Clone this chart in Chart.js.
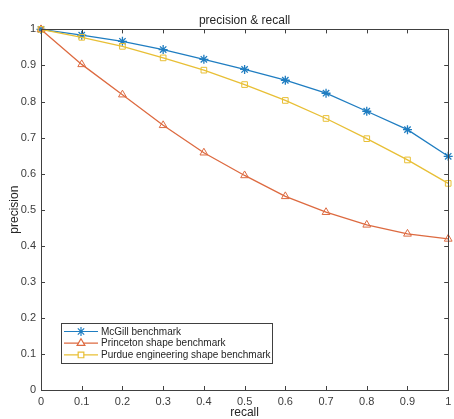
<!DOCTYPE html>
<html lang="en">
<head>
    <meta charset="UTF-8">
    <title>precision & recall</title>
    <script src="https://cdn.jsdelivr.net/npm/chart.js"></script>
    <style>
        body {
            margin: 0;
            padding: 0;
            background-color: #ffffff;
        }

        #wrap {
            width: 454px;
            height: 419px;
        }
    </style>
</head>
<body>
    <div id="wrap"><canvas id="prChart"></canvas></div>

    <script>
        // recall values on the x axis
        const recall = [0, 0.1, 0.2, 0.3, 0.4, 0.5, 0.6, 0.7, 0.8, 0.9, 1];

        // precision for each benchmark
        const mcgill = [1, 0.984, 0.967, 0.944, 0.917, 0.889, 0.859, 0.823, 0.773, 0.722, 0.648];
        const princeton = [1, 0.903, 0.819, 0.734, 0.658, 0.595, 0.537, 0.493, 0.458, 0.433, 0.419];
        const purdue = [1, 0.978, 0.953, 0.921, 0.887, 0.847, 0.803, 0.753, 0.697, 0.638, 0.573];

        const seriesNames = ['McGill benchmark', 'Princeton shape benchmark', 'Purdue engineering shape benchmark'];

        const axisColor = '#404040';
        const fontFamily = "'Liberation Sans', Arial, sans-serif";

        function toPoints(values) {
            return values.map((v, i) => ({ x: recall[i], y: v }));
        }

        // MATLAB-like box with inward ticks on all four sides
        const boxAxes = {
            id: 'boxAxes',
            afterDraw(chart) {
                const { ctx, chartArea: a, scales } = chart;
                const len = 4;
                ctx.save();
                ctx.strokeStyle = axisColor;
                ctx.lineWidth = 1;
                ctx.beginPath();
                scales.x.ticks.forEach(t => {
                    const px = Math.round(scales.x.getPixelForValue(t.value)) + 0.5;
                    ctx.moveTo(px, a.bottom);
                    ctx.lineTo(px, a.bottom - len);
                    ctx.moveTo(px, a.top);
                    ctx.lineTo(px, a.top + len);
                });
                scales.y.ticks.forEach(t => {
                    const py = Math.round(scales.y.getPixelForValue(t.value)) + 0.5;
                    ctx.moveTo(a.left, py);
                    ctx.lineTo(a.left + len, py);
                    ctx.moveTo(a.right, py);
                    ctx.lineTo(a.right - len, py);
                });
                ctx.stroke();
                ctx.strokeRect(Math.round(a.left) + 0.5, Math.round(a.top) + 0.5,
                    Math.round(a.right - a.left), Math.round(a.bottom - a.top));
                ctx.restore();
            }
        };

        // legend box inside the lower left of the plot
        const insideLegend = {
            id: 'insideLegend',
            afterDraw(chart) {
                const { ctx, chartArea: a } = chart;
                const x0 = a.left + 20, y0 = a.bottom - 67;
                const w = 211, h = 40, rowH = 11.7;
                ctx.save();
                ctx.fillStyle = '#ffffff';
                ctx.fillRect(x0, y0, w, h);
                ctx.strokeStyle = axisColor;
                ctx.lineWidth = 1;
                ctx.strokeRect(Math.round(x0) + 0.5, Math.round(y0) + 0.5, w, h);
                ctx.font = '10px ' + fontFamily;
                ctx.textBaseline = 'middle';
                chart.data.datasets.forEach((ds, i) => {
                    const y = y0 + 8.5 + i * rowH;
                    ctx.strokeStyle = ds.borderColor;
                    ctx.lineWidth = 1.2;
                    ctx.beginPath();
                    ctx.moveTo(x0 + 3, y);
                    ctx.lineTo(x0 + 37, y);
                    ctx.stroke();
                    ctx.fillStyle = '#ffffff';
                    Chart.helpers.drawPoint(ctx, {
                        pointStyle: ds.pointStyle,
                        radius: ds.pointRadius,
                        borderWidth: ds.pointBorderWidth,
                        rotation: 0
                    }, x0 + 20, y);
                    ctx.fillStyle = '#262626';
                    ctx.fillText(ds.label, x0 + 40, y + 0.5);
                });
                ctx.restore();
            }
        };

        const ctx = document.getElementById('prChart').getContext('2d');

        const prChart = new Chart(ctx, {
            type: 'line',
            data: {
                datasets: [{
                    label: seriesNames[0],
                    data: toPoints(mcgill),
                    borderColor: '#1f7dc1',
                    backgroundColor: 'rgba(0,0,0,0)',
                    pointStyle: 'star',
                    pointRadius: 4.5,
                    pointBorderWidth: 1.3,
                    borderWidth: 1.3,
                    order: 2
                }, {
                    label: seriesNames[1],
                    data: toPoints(princeton),
                    borderColor: '#dd6a40',
                    backgroundColor: 'rgba(0,0,0,0)',
                    pointStyle: 'triangle',
                    pointRadius: 4.5,
                    pointBorderWidth: 1,
                    borderWidth: 1.3,
                    order: 1
                }, {
                    label: seriesNames[2],
                    data: toPoints(purdue),
                    borderColor: '#e8bf35',
                    backgroundColor: 'rgba(0,0,0,0)',
                    pointStyle: 'rect',
                    pointRadius: 4,
                    pointBorderWidth: 1,
                    borderWidth: 1.3,
                    order: 0
                }]
            },
            options: {
                responsive: true,
                maintainAspectRatio: false,
                animation: false,
                clip: false,
                layout: { padding: { left: 0, right: 2, top: 0, bottom: 0 } },
                plugins: {
                    legend: { display: false },
                    tooltip: { enabled: false },
                    title: {
                        display: true,
                        text: 'precision & recall',
                        fullSize: false,
                        color: '#262626',
                        font: { family: fontFamily, size: 12, weight: 'normal' },
                        padding: { top: 13, bottom: 2 }
                    }
                },
                scales: {
                    x: {
                        type: 'linear',
                        min: 0,
                        max: 1,
                        grid: { display: false, drawTicks: false },
                        border: { display: false },
                        ticks: {
                            stepSize: 0.1,
                            padding: 5,
                            color: '#3c3c3c',
                            font: { family: fontFamily, size: 11 },
                            callback: v => String(Number(v.toFixed(1)))
                        },
                        title: {
                            display: true,
                            text: 'recall',
                            color: '#262626',
                            font: { family: fontFamily, size: 12 },
                            padding: { top: 0, bottom: -1 }
                        },
                        afterFit(scale) {
                            scale.height = 29;
                            scale.paddingLeft = 0;
                            scale.paddingRight = 0;
                        }
                    },
                    y: {
                        min: 0,
                        max: 1,
                        grid: { display: false, drawTicks: false },
                        border: { display: false },
                        ticks: {
                            stepSize: 0.1,
                            padding: 5,
                            color: '#3c3c3c',
                            font: { family: fontFamily, size: 11 },
                            callback: v => String(Number(v.toFixed(1)))
                        },
                        title: {
                            display: true,
                            text: 'precision',
                            color: '#262626',
                            font: { family: fontFamily, size: 12 },
                            padding: { top: 7, bottom: 0 }
                        },
                        afterFit(scale) {
                            scale.width = 41;
                            scale.paddingTop = 0;
                            scale.paddingBottom = 0;
                        }
                    }
                }
            },
            plugins: [boxAxes, insideLegend]
        });
    </script>
</body>
</html>
